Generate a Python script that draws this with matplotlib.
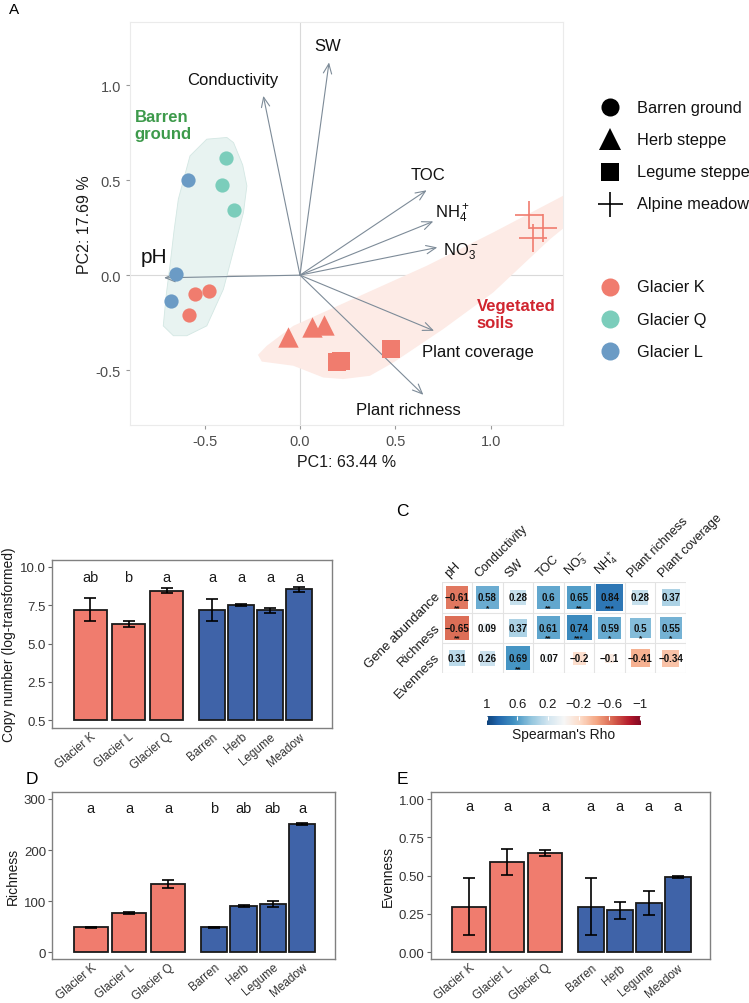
import numpy as np
import matplotlib
matplotlib.use("Agg")
import matplotlib.pyplot as plt
from matplotlib.patches import Rectangle, Polygon

plt.rcParams["font.family"] = ["Liberation Sans", "DejaVu Sans"]
plt.rcParams["mathtext.default"] = "regular"
plt.rcParams["axes.unicode_minus"] = False

# ---------------- data ----------------
# PCA sample scores (panel A)
sample_habitat = ["Barren"] * 9 + ["Herb"] * 3 + ["Legume"] * 3 + ["Meadow"] * 3
sample_glacier = ["L", "Q", "Q", "Q", "L", "L", "K", "K", "K"] + ["K"] * 9
sample_pc1 = [-0.586, -0.389, -0.407, -0.344, -0.648, -0.674, -0.551, -0.478, -0.581,
              -0.065, 0.061, 0.124, 0.193, 0.216, 0.475, 1.201, 1.274, 1.218]
sample_pc2 = [0.500, 0.616, 0.474, 0.342, 0.005, -0.138, -0.098, -0.084, -0.209,
              -0.325, -0.275, -0.265, -0.458, -0.453, -0.391, 0.317, 0.249, 0.193]

# environmental loadings (arrows)
env_names = ["pH", "Conductivity", "SW", "TOC", "NH$_4^+$", "NO$_3^-$",
             "Plant coverage", "Plant richness"]
env_pc1 = [-0.712, -0.192, 0.152, 0.663, 0.698, 0.719, 0.702, 0.646]
env_pc2 = [-0.014, 0.944, 1.120, 0.447, 0.283, 0.146, -0.293, -0.630]
env_lab_x = [-0.762, -0.353, 0.147, 0.670, 0.796, 0.840, 0.932, 0.565]
env_lab_y = [0.096, 1.030, 1.207, 0.532, 0.330, 0.130, -0.402, -0.705]
env_lab_size = [15, 12, 12, 12, 12, 12, 12, 12]

# group outlines
barren_hull_x = [-0.663, -0.716, -0.700, -0.681, -0.660, -0.637, -0.576, -0.488, -0.383,
                 -0.348, -0.300, -0.278, -0.296, -0.401, -0.488, -0.593]
barren_hull_y = [-0.319, -0.267, -0.100, 0.049, 0.230, 0.400, 0.628, 0.716, 0.725,
                 0.698, 0.580, 0.470, 0.330, -0.074, -0.267, -0.319]
veg_hull_x = [-0.220, -0.174, -0.035, 0.314, 0.663, 1.012, 1.361, 1.42, 1.42,
              1.309, 1.012, 0.750, 0.489, 0.366, 0.227, 0.122, -0.035, -0.200]
veg_hull_y = [-0.420, -0.372, -0.267, -0.109, 0.049, 0.225, 0.409, 0.44, 0.28,
              0.189, -0.091, -0.284, -0.460, -0.530, -0.547, -0.539, -0.477, -0.455]

# bar panels (B, D, E)
bar_groups = ["Glacier K", "Glacier L", "Glacier Q", "Barren", "Herb", "Legume", "Meadow"]
copy_mean = [7.20, 6.29, 8.44, 7.20, 7.49, 7.16, 8.53]
copy_lo = [6.45, 6.11, 8.27, 6.46, 7.43, 6.98, 8.35]
copy_hi = [7.95, 6.48, 8.64, 7.92, 7.55, 7.33, 8.70]
copy_letters = ["ab", "b", "a", "a", "a", "a", "a"]

rich_mean = [49.5, 77.5, 133.0, 49.5, 90.6, 95.0, 251.0]
rich_lo = [48.5, 75.0, 125.3, 48.5, 89.0, 89.3, 248.9]
rich_hi = [50.5, 79.5, 141.0, 50.5, 92.0, 99.8, 252.8]
rich_letters = ["a", "a", "a", "b", "ab", "ab", "a"]

even_mean = [0.295, 0.591, 0.646, 0.295, 0.276, 0.324, 0.491]
even_lo = [0.111, 0.506, 0.626, 0.111, 0.219, 0.245, 0.486]
even_hi = [0.483, 0.676, 0.669, 0.483, 0.330, 0.402, 0.497]
even_letters = ["a", "a", "a", "a", "a", "a", "a"]

# correlation heatmap (C)
corr_cols = ["pH", "Conductivity", "SW", "TOC", "NO$_3^-$", "NH$_4^+$",
             "Plant richness", "Plant coverage"]
corr_rows = ["Gene abundance", "Richness", "Evenness"]
rho = [[-0.61, 0.58, 0.28, 0.60, 0.65, 0.84, 0.28, 0.37],
       [-0.65, 0.09, 0.37, 0.61, 0.74, 0.59, 0.50, 0.55],
       [0.31, 0.26, 0.69, 0.07, -0.20, -0.10, -0.41, -0.34]]
stars = [["**", "*", "", "**", "**", "***", "", ""],
         ["**", "", "", "**", "***", "*", "*", "*"],
         ["", "", "**", "", "", "", "", ""]]

# ---------------- style ----------------
glacier_col = {"K": "#F07C6E", "Q": "#7BCDBB", "L": "#6B9BC5"}
habitat_marker = {"Barren": "o", "Herb": "^", "Legume": "s", "Meadow": "+"}
habitat_size = {"Barren": 105, "Herb": 215, "Legume": 160, "Meadow": 380}
SALMON, BLUE = "#F07C6E", "#3F63A8"
GREY_TXT = "#4d4d4d"

fig = plt.figure(figsize=(7.49, 10.04), dpi=100)

# ---------------- panel A: PCA biplot ----------------
ax = fig.add_axes([0.1736, 0.5757, 0.578, 0.4014])
ax.set_xlim(-0.89, 1.377)
ax.set_ylim(-0.789, 1.333)
ax.axhline(0, color="#d9d9d9", lw=0.8, zorder=0)
ax.axvline(0, color="#d9d9d9", lw=0.8, zorder=0)
ax.add_patch(Polygon(np.c_[barren_hull_x, barren_hull_y], closed=True,
                     facecolor="#e8f3f1", edgecolor="#d3e7e3", lw=0.6, zorder=1))
ax.add_patch(Polygon(np.c_[veg_hull_x, veg_hull_y], closed=True,
                     facecolor="#fdebe6", edgecolor="none", zorder=1))

px, py = np.array(sample_pc1), np.array(sample_pc2)
hab, gla = np.array(sample_habitat), np.array(sample_glacier)
for h, m in habitat_marker.items():
    for g, c in glacier_col.items():
        sel = (hab == h) & (gla == g)
        if not sel.any():
            continue
        ax.scatter(px[sel], py[sel], marker=m, s=habitat_size[h], c=c,
                   linewidths=1.2 if m == "+" else 0, zorder=3)

for x, y in zip(env_pc1, env_pc2):
    ax.annotate("", xy=(x, y), xytext=(0, 0),
                arrowprops=dict(arrowstyle="->,head_length=0.7,head_width=0.3",
                                color="#7d8b98", lw=0.8, shrinkA=0, shrinkB=0),
                zorder=2)
for name, x, y, fs in zip(env_names, env_lab_x, env_lab_y, env_lab_size):
    ax.text(x, y, name, ha="center", va="center", fontsize=fs, color="#111111", zorder=4)

ax.text(-0.865, 0.79, "Barren\nground", color="#3D9A4B", fontweight="bold",
        fontsize=12, ha="left", va="center", linespacing=1.2)
ax.text(0.925, -0.205, "Vegetated\nsoils", color="#D0252F", fontweight="bold",
        fontsize=12, ha="left", va="center", linespacing=1.2)

ax.set_xticks([-0.5, 0.0, 0.5, 1.0])
ax.set_yticks([-0.5, 0.0, 0.5, 1.0])
ax.tick_params(colors="#999999", labelcolor=GREY_TXT, labelsize=10.5, length=3, width=0.8)
for s in ax.spines.values():
    s.set_color("#ebebeb")
    s.set_linewidth(0.8)
ax.set_xlabel("PC1: 63.44 %", fontsize=11.5, color="#1a1a1a", labelpad=4)
ax.set_ylabel("PC2: 17.69 %", fontsize=11.5, color="#1a1a1a", labelpad=3)

# legends for panel A drawn in an overlay (pixel coordinates)
ov = fig.add_axes([0, 0, 1, 1], facecolor="none")
ov.set_xlim(0, 749)
ov.set_ylim(1004, 0)
ov.axis("off")
shape_legend = [("Barren ground", "o", 13, 0), ("Herb steppe", "^", 16, 0),
                ("Legume steppe", "s", 12.5, 0), ("Alpine meadow", "+", 18, 1.2)]
for i, (lab, m, ms, mew) in enumerate(shape_legend):
    yy = 108 + i * 32.3
    ov.plot([610], [yy], marker=m, ms=ms, color="black", mew=mew, ls="none")
    ov.text(637, yy, lab, fontsize=11.8, va="center", ha="left", color="#111111")
for i, (lab, g) in enumerate([("Glacier K", "K"), ("Glacier Q", "Q"), ("Glacier L", "L")]):
    yy = 288 + i * 32.2
    ov.plot([610], [yy], marker="o", ms=13, color=glacier_col[g], mew=0, ls="none")
    ov.text(637, yy, lab, fontsize=11.8, va="center", ha="left", color="#111111")

for lab, x, y in [("A", 14, 10), ("C", 402, 512), ("D", 32, 780), ("E", 402, 780)]:
    ov.text(x, y, lab, fontsize=12.5 if lab != "A" else 11, ha="center", va="center")


# ---------------- bar panels ----------------
def bar_panel(rect, means, lo, hi, letters, letter_y, ylim, yticks, yticklabels, ylabel):
    a = fig.add_axes(rect)
    xs = np.r_[np.arange(3), 3.2 + 0.76 * np.arange(4)]
    widths = [0.88] * 3 + [0.68] * 4
    colors = [SALMON] * 3 + [BLUE] * 4
    means, lo, hi = np.array(means), np.array(lo), np.array(hi)
    a.bar(xs, means, width=widths, color=colors, edgecolor="#1a1a1a", linewidth=1.3, zorder=2)
    a.errorbar(xs, means, yerr=[means - lo, hi - means], fmt="none", ecolor="black",
               elinewidth=1.2, capsize=4, capthick=1.2, zorder=3)
    for x, l in zip(xs, letters):
        a.text(x, letter_y, l, ha="center", va="center", fontsize=10.5, color="#1a1a1a")
    a.set_xlim(-1.0, 6.33)
    a.set_ylim(*ylim)
    a.set_yticks(yticks)
    a.set_yticklabels(yticklabels)
    a.set_xticks(xs)
    a.set_xticklabels(bar_groups, rotation=40, ha="right", rotation_mode="anchor")
    a.tick_params(axis="x", length=0, pad=1.5, labelsize=8.5, labelcolor="#333333")
    a.tick_params(axis="y", length=3, width=0.8, color="#666666", labelsize=9.5,
                  labelcolor="#333333", pad=1.5)
    for s in a.spines.values():
        s.set_color("#808080")
        s.set_linewidth(1.0)
    a.set_ylabel(ylabel, fontsize=10, color="#1a1a1a", labelpad=3)
    return a


bar_panel([0.0698, 0.2739, 0.373, 0.1676], copy_mean, copy_lo, copy_hi, copy_letters, 9.31,
          (-0.5, 10.46), [0, 2.5, 5, 7.5, 10], ["0.5", "2.5", "5.0", "7.5", "10.0"],
          "Copy number (log-transformed)")
bar_panel([0.0698, 0.0441, 0.3774, 0.1663], rich_mean, rich_lo, rich_hi, rich_letters, 281.8,
          (-12.5, 314), [0, 100, 200, 300], ["0", "100", "200", "300"], "Richness")
bar_panel([0.5754, 0.0435, 0.3725, 0.1669], even_mean, even_lo, even_hi, even_letters, 0.952,
          (-0.046, 1.048), [0, 0.25, 0.5, 0.75, 1.0], ["0.00", "0.25", "0.50", "0.75", "1.00"],
          "Evenness")

# ---------------- panel C: correlation heatmap ----------------
hc = fig.add_axes([0.5897, 0.3284, 0.3262, 0.0906])
nr, nc = len(corr_rows), len(corr_cols)
hc.set_xlim(0, nc)
hc.set_ylim(nr, 0)
cmap = plt.get_cmap("RdBu")
for i in range(nr):
    for j in range(nc):
        r = rho[i][j]
        side = np.sqrt(abs(r)) * 0.96
        hc.add_patch(Rectangle((j + 0.5 - side / 2, i + 0.5 - side / 2), side, side,
                               facecolor=cmap((r + 1) / 2 * 0.86 + 0.07), edgecolor="none",
                               zorder=1))
        txt = f"{r:g}".replace("-", "\u2212")
        hc.text(j + 0.5, i + 0.5, txt, ha="center", va="center", fontsize=7,
                fontweight="bold", color="#111111", zorder=3)
        if stars[i][j]:
            hc.text(j + 0.5, i + 0.84, stars[i][j], ha="center", va="center", fontsize=6,
                    fontweight="bold", color="#111111", zorder=3)
for k in range(nc + 1):
    hc.axvline(k, color="#e3e3e3", lw=0.8, zorder=0)
for k in range(nr + 1):
    hc.axhline(k, color="#e3e3e3", lw=0.8, zorder=0)
hc.set_xticks([])
hc.set_yticks([])
for s in hc.spines.values():
    s.set_visible(False)
for j, name in enumerate(corr_cols):
    hc.text(j + 0.3, -0.1, name, rotation=45, ha="left", va="bottom",
            rotation_mode="anchor", fontsize=9, color="#1a1a1a")
for i, name in enumerate(corr_rows):
    hc.text(-0.12, i + 0.4, name, rotation=45, ha="right", va="center",
            rotation_mode="anchor", fontsize=9.5, color="#1a1a1a")

cb = fig.add_axes([0.6498, 0.2772, 0.2043, 0.009])
cb.imshow(np.linspace(1, -1, 256)[None, :], cmap="RdBu", vmin=-1.08, vmax=1.08,
          aspect="auto", extent=[1, -1, 0, 1])
cb.set_xlim(1, -1)
cb.set_yticks([])
cb.set_xticks([1, 0.6, 0.2, -0.2, -0.6, -1])
cb.set_xticklabels(["1", "0.6", "0.2", "\u22120.2", "\u22120.6", "\u22121"])
cb.xaxis.tick_top()
cb.tick_params(axis="x", direction="in", color="white", length=3, labelsize=9.5,
               labelcolor="#1a1a1a", pad=4)
for s in cb.spines.values():
    s.set_visible(False)
cb.set_xlabel("Spearman's Rho", fontsize=10, color="#1a1a1a", labelpad=2)
cb.xaxis.set_label_position("bottom")

fig.savefig("out.png", dpi=100)
